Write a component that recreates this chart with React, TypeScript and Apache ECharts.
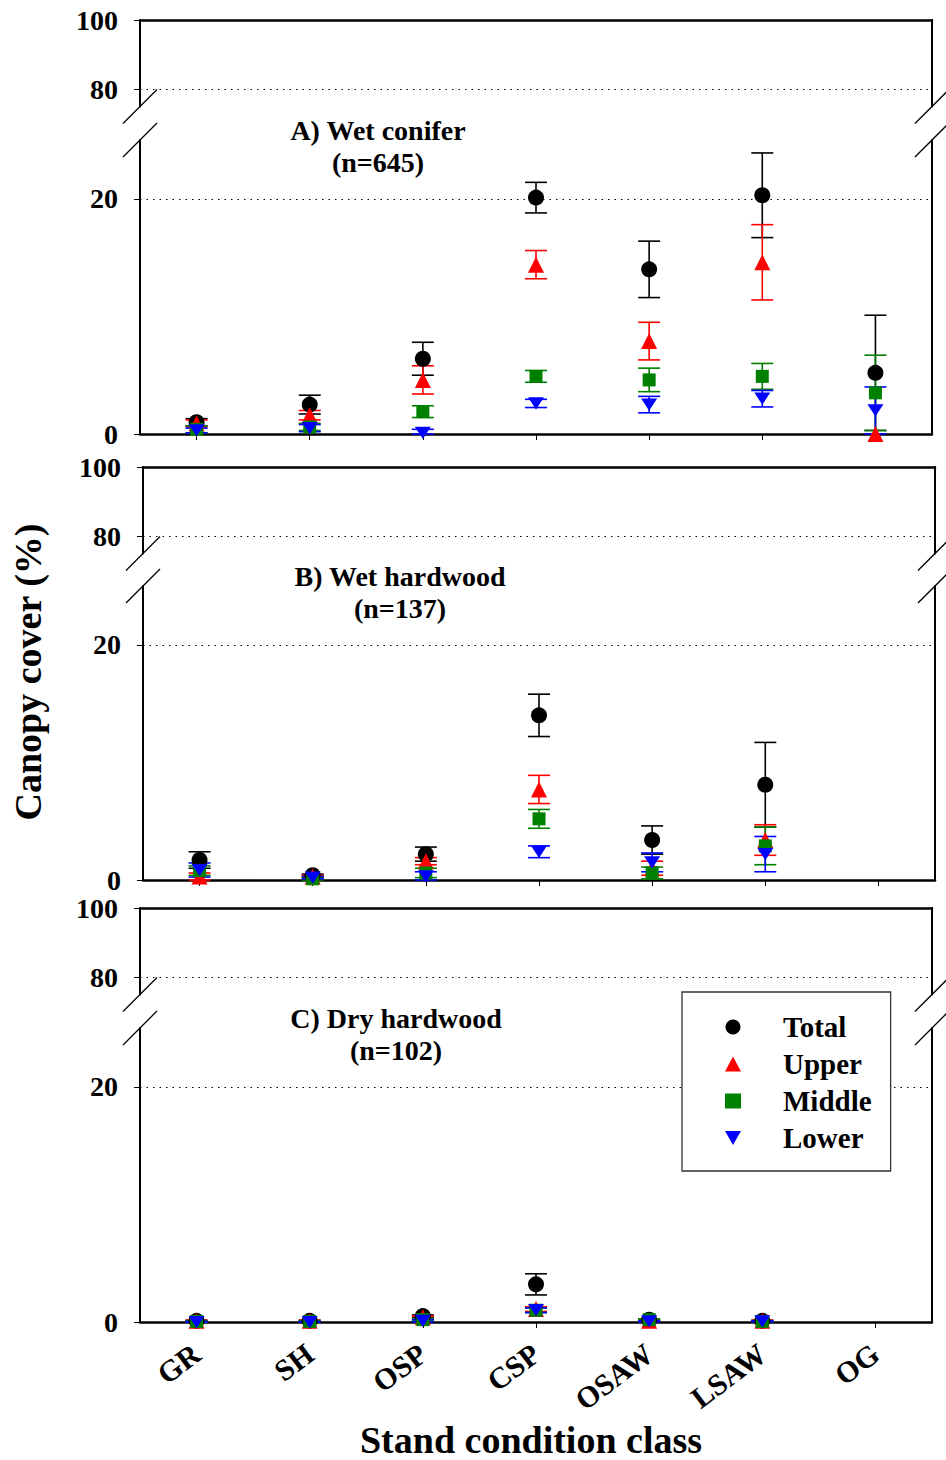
import React, { useEffect, useRef } from "react";
import * as echarts from "echarts";

// ---------- data ----------
const categories = ["GR", "SH", "OSP", "CSP", "OSAW", "LSAW", "OG"];
const seriesNames = ["Total", "Upper", "Middle", "Lower"];
const upperTicks = [80, 100];
const lowerTicks = [0, 20];

// Panel A) Wet conifer (n=645)
const aTotalMean = [1.0, 2.5, 6.4, 20.1, 14.0, 20.3, 5.2];
const aTotalSE = [0.3, 0.8, 1.4, 1.3, 2.4, 3.6, 4.9];
const aUpperMean = [0.9, 1.6, 4.6, 14.4, 7.9, 14.6, 0.0];
const aUpperSE = [0.3, 0.4, 1.2, 1.2, 1.6, 3.2, 0];
const aMiddleMean = [0.4, 0.6, 1.9, 4.9, 4.6, 4.9, 3.5];
const aMiddleSE = [0.3, 0.3, 0.5, 0.5, 1.0, 1.1, 3.2];
const aLowerMean = [0.3, 0.5, 0.1, 2.6, 2.5, 3.0, 2.0];
const aLowerSE = [0.2, 0.3, 0.3, 0.35, 0.7, 0.7, 2.0];

// Panel B) Wet hardwood (n=137)
const bTotalMean = [1.7, 0.4, 2.2, 14.0, 3.4, 8.1, null];
const bTotalSE = [0.7, 0.1, 0.6, 1.8, 1.2, 3.6, null];
const bUpperMean = [0.3, 0.3, 1.6, 7.7, 1.0, 3.4, null];
const bUpperSE = [0.3, 0.1, 0.3, 1.2, 0.6, 1.3, null];
const bMiddleMean = [0.8, 0.1, 0.6, 5.2, 0.6, 2.9, null];
const bMiddleSE = [0.4, 0.1, 0.4, 0.8, 0.5, 1.6, null];
const bLowerMean = [0.85, 0.2, 0.3, 2.4, 1.5, 2.2, null];
const bLowerSE = [0.6, 0.1, 0.4, 0.5, 0.8, 1.5, null];

// Panel C) Dry hardwood (n=102)
const cTotalMean = [0.1, 0.1, 0.5, 3.2, 0.2, 0.1, null];
const cTotalSE = [0.05, 0.05, 0.1, 0.9, 0.05, 0.05, null];
const cUpperMean = [0.1, 0.1, 0.4, 1.1, 0.1, 0.1, null];
const cUpperSE = [0.05, 0.05, 0.1, 0.2, 0.05, 0.05, null];
const cMiddleMean = [0.05, 0.05, 0.2, 1.0, 0.2, 0.05, null];
const cMiddleSE = [0.05, 0.05, 0.1, 0.2, 0.05, 0.05, null];
const cLowerMean = [0.0, 0.0, 0.1, 1.0, 0.05, 0.05, null];
const cLowerSE = [0.05, 0.05, 0.1, 0.2, 0.05, 0.05, null];

const panelTitles = ["A) Wet conifer", "B) Wet hardwood", "C) Dry hardwood"];
const panelN = ["(n=645)", "(n=137)", "(n=102)"];

// ---------- layout / style ----------
const FONT = "'Liberation Serif', 'Times New Roman', serif";
const colors = ["#000000", "#ff0000", "#008000", "#0000ff"];
const symbols = ["circle", "triangle", "rect", "path://M0,0L16,0L8,14Z"];
const symbolSizes = [16, 16, 13, [16, 14]];
const legendIcons = ["circle", "triangle", "rect", "path://M0,0L16,0L8,14Z"];

const PLOT_W = 792;
const UPPER_H = 86.5;
const LOWER_H = 294;
const panels = [
  { left: 140, upperTop: 20, lowerTop: 140, titleX: 378, titleY: 114, means: [aTotalMean, aUpperMean, aMiddleMean, aLowerMean], ses: [aTotalSE, aUpperSE, aMiddleSE, aLowerSE] },
  { left: 143, upperTop: 467, lowerTop: 586, titleX: 400, titleY: 560, means: [bTotalMean, bUpperMean, bMiddleMean, bLowerMean], ses: [bTotalSE, bUpperSE, bMiddleSE, bLowerSE] },
  { left: 140, upperTop: 908, lowerTop: 1028, titleX: 396, titleY: 1002, means: [cTotalMean, cUpperMean, cMiddleMean, cLowerMean], ses: [cTotalSE, cUpperSE, cMiddleSE, cLowerSE] },
];

function buildOption() {
  const grids: any[] = [];
  const xAxes: any[] = [];
  const yAxes: any[] = [];
  const series: any[] = [];
  const graphics: any[] = [];
  const titles: any[] = [];

  panels.forEach((p, pi) => {
    [true, false].forEach((upper) => {
      const g = grids.length;
      grids.push({
        left: p.left,
        top: upper ? p.upperTop : p.lowerTop,
        width: PLOT_W,
        height: upper ? UPPER_H : LOWER_H,
        containLabel: false,
        outerBoundsMode: "none",
      });
      const isBottom = !upper && pi === 2;
      xAxes.push({
        type: "category",
        gridIndex: g,
        data: categories,
        position: upper ? "top" : "bottom",
        boundaryGap: true,
        axisLine: { show: true, onZero: false, lineStyle: { color: "#000", width: 2.5 } },
        axisTick: { show: !upper, alignWithLabel: true, interval: 0, length: 6, inside: false, lineStyle: { color: "#000", width: 1 } },
        axisLabel: {
          show: isBottom,
          interval: 0,
          rotate: 37,
          margin: 28,
          fontSize: 30,
          lineHeight: 26,
          fontWeight: "bold",
          fontFamily: FONT,
          color: "#000",
        },
        splitLine: { show: false },
      });
      const ticks = upper ? upperTicks : lowerTicks;
      const yMin = upper ? 75 : 0;
      const yMax = upper ? 100 : 25;
      yAxes.push({
        type: "value",
        gridIndex: g,
        min: yMin,
        max: yMax,
        position: "left",
        axisLine: { show: true, onZero: false, lineStyle: { color: "#000", width: 2 } },
        axisTick: { show: true, length: 6, lineStyle: { color: "#000", width: 1 }, customValues: ticks },
        axisLabel: {
          show: true,
          margin: 22,
          customValues: ticks,
          fontSize: 28,
          lineHeight: 22,
          fontWeight: "bold",
          fontFamily: FONT,
          color: "#000",
        },
        splitLine: { show: false },
      });
      yAxes.push({
        type: "value",
        gridIndex: g,
        min: yMin,
        max: yMax,
        position: "right",
        axisLine: { show: true, onZero: false, lineStyle: { color: "#000", width: 2 } },
        axisTick: { show: false },
        axisLabel: { show: false },
        splitLine: { show: false },
      });
      // dotted reference line
      series.push({
        type: "scatter",
        name: "ref" + g,
        xAxisIndex: g,
        yAxisIndex: 2 * g,
        data: [],
        silent: true,
        markLine: {
          silent: true,
          symbol: "none",
          animation: false,
          label: { show: false },
          lineStyle: { color: "#000", type: [1.5, 5], width: 1.2 },
          data: [{ yAxis: upper ? 80 : 20 }],
        },
      });
      if (!upper) {
        seriesNames.forEach((name, k) => {
          const mean = p.means[k];
          const se = p.ses[k];
          const errData: any[] = [];
          const ptData: any[] = [];
          mean.forEach((m, i) => {
            if (m === null || m === undefined) return;
            ptData.push([i, m]);
            const s = se[i];
            if (s) errData.push([i, m, s]);
          });
          const color = colors[k];
          series.push({
            type: "custom",
            name: name + "-err" + pi,
            xAxisIndex: g,
            yAxisIndex: 2 * g,
            silent: true,
            encode: { x: 0, y: 1 },
            data: errData,
            renderItem: (params: any, api: any) => {
              const x = api.value(0);
              const m = api.value(1);
              const s = api.value(2);
              const top = api.coord([x, m + s]);
              const bot = api.coord([x, Math.max(0, m - s)]);
              const hw = 11;
              const st = { stroke: color, lineWidth: 1.6, fill: "none" };
              return {
                type: "group",
                children: [
                  { type: "line", shape: { x1: top[0], y1: top[1], x2: bot[0], y2: bot[1] }, style: st },
                  { type: "line", shape: { x1: top[0] - hw, y1: top[1], x2: top[0] + hw, y2: top[1] }, style: st },
                  { type: "line", shape: { x1: bot[0] - hw, y1: bot[1], x2: bot[0] + hw, y2: bot[1] }, style: st },
                ],
              };
            },
          });
          series.push({
            type: "scatter",
            name,
            xAxisIndex: g,
            yAxisIndex: 2 * g,
            data: ptData,
            symbol: symbols[k],
            symbolSize: symbolSizes[k],
            symbolKeepAspect: true,
            clip: false,
            itemStyle: { color, opacity: 1 },
            emphasis: { disabled: true },
          });
        });
      }
    });

    // break marks
    const ub = p.upperTop + UPPER_H;
    const lt = p.lowerTop;
    const d = 17;
    [p.left, p.left + PLOT_W].forEach((x) => {
      [ub, lt].forEach((y) => {
        graphics.push({
          type: "line",
          z: 10,
          shape: { x1: x - d, y1: y + d, x2: x + d, y2: y - d },
          style: { stroke: "#000", lineWidth: 1.3 },
        });
      });
    });

    titles.push({
      text: panelTitles[pi] + "\n" + panelN[pi],
      left: p.titleX,
      top: p.titleY,
      textAlign: "center",
      padding: 0,
      textStyle: { fontFamily: FONT, fontWeight: "bold", fontSize: 28, lineHeight: 32, color: "#000" },
    });
  });

  graphics.push({
    type: "text",
    x: 28,
    y: 672,
    rotation: Math.PI / 2,
    style: {
      text: "Canopy cover (%)",
      font: "bold 38px " + FONT,
      fill: "#000",
      textAlign: "center",
      textVerticalAlign: "middle",
    },
  });
  graphics.push({
    type: "text",
    x: 531,
    y: 1440,
    style: {
      text: "Stand condition class",
      font: "bold 38px " + FONT,
      lineHeight: 30,
      fill: "#000",
      textAlign: "center",
      textVerticalAlign: "middle",
    },
  });

  return {
    animation: false,
    backgroundColor: "#fff",
    textStyle: { fontFamily: FONT },
    title: titles,
    grid: grids,
    xAxis: xAxes,
    yAxis: yAxes,
    series,
    graphic: graphics,
    legend: {
      data: seriesNames.map((n, k) => ({ name: n, icon: legendIcons[k] })),
      orient: "vertical",
      left: 682,
      top: 992,
      padding: [20, 19, 18, 43],
      itemWidth: 16,
      itemHeight: 15,
      itemGap: 7,
      selectedMode: false,
      backgroundColor: "#fff",
      borderColor: "#333",
      borderWidth: 1.3,
      z: 20,
      textStyle: {
        fontFamily: FONT,
        fontWeight: "bold",
        fontSize: 29,
        lineHeight: 30,
        color: "#000",
        padding: [0, 0, 0, 37],
      },
    },
  };
}

export default function App() {
  const ref = useRef<HTMLDivElement>(null);
  useEffect(() => {
    document.body.style.margin = "0";
    if (!ref.current) return;
    const chart = echarts.init(ref.current, undefined, { renderer: "svg" });
    chart.setOption(buildOption() as any);
    return () => chart.dispose();
  }, []);
  return <div ref={ref} style={{ width: 946, height: 1460 }} />;
}
